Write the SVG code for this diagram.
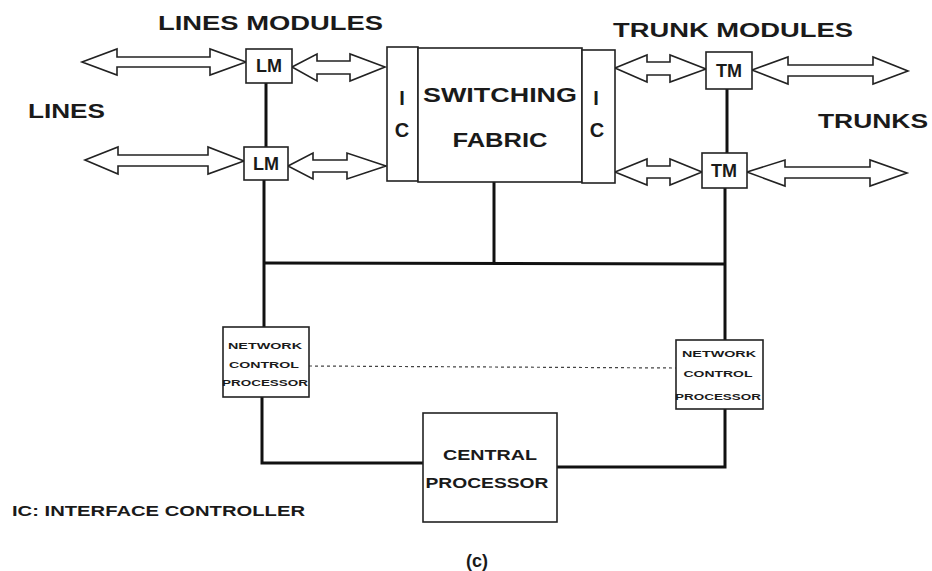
<svg xmlns="http://www.w3.org/2000/svg" width="932" height="571" viewBox="0 0 932 571">
<style>
.box{fill:#fff;stroke:#222;stroke-width:1.6}
.arr{fill:#fff;stroke:#222;stroke-width:1.6;stroke-linejoin:miter}
.wire{fill:none;stroke:#111;stroke-width:3}
.dot{fill:none;stroke:#444;stroke-width:1.2;stroke-dasharray:3 3}
text{font-family:"Liberation Sans",Arial,sans-serif;font-weight:bold;fill:#1a1a1a}
.lbl{font-size:20px}
.big{font-size:20px;text-anchor:middle}
.mod{font-size:18px;text-anchor:middle}
.ncp{font-size:9px;text-anchor:middle}
.cp{font-size:15px;text-anchor:middle}
</style>
<rect width="932" height="571" fill="#fff"/>

<g id="connectors">
  <line class="wire" x1="266" y1="83" x2="266" y2="147"/>
  <line class="wire" x1="264" y1="180" x2="264" y2="327"/>
  <line class="wire" x1="727" y1="89" x2="727" y2="153"/>
  <line class="wire" x1="725" y1="188" x2="725" y2="340"/>
  <line class="wire" x1="263" y1="263" x2="725" y2="264"/>
  <line class="wire" x1="494" y1="182" x2="494" y2="263"/>
  <polyline class="wire" points="262,397 262,463 425,463"/>
  <polyline class="wire" points="725,409 725,467 557,467"/>
  <line class="dot" x1="309" y1="366" x2="676" y2="368"/>
  <path class="arr" d="M82,62 L117,49 L117,57 L210,57 L210,49 L246,62 L210,75 L210,67 L117,67 L117,75 Z"/>
  <path class="arr" d="M292,67 L317,54 L317,61 L350,61 L350,54 L385,67 L350,81 L350,74 L317,74 L317,81 Z"/>
  <path class="arr" d="M85,160 L118,147 L118,155 L208,155 L208,147 L244,161 L208,174 L208,166 L118,166 L118,174 Z"/>
  <path class="arr" d="M288,166 L313,153 L313,160 L347,160 L347,153 L386,166 L347,179 L347,172 L313,172 L313,179 Z"/>
  <path class="arr" d="M615,68 L647,55 L647,62 L670,62 L670,55 L706,69 L670,82 L670,75 L647,75 L647,82 Z"/>
  <path class="arr" d="M752,70 L788,57 L788,65 L873,65 L873,57 L908,71 L873,84 L873,76 L788,76 L788,84 Z"/>
  <path class="arr" d="M615,172 L647,159 L647,166 L670,166 L670,159 L702,172 L670,185 L670,178 L647,178 L647,185 Z"/>
  <path class="arr" d="M747,172 L785,160 L785,167 L870,167 L870,160 L907,173 L870,186 L870,178 L785,178 L785,186 Z"/>
</g>

<g id="LM1"><rect class="box" x="246" y="49" width="46" height="34"/><text class="mod" x="269" y="72">LM</text></g>
<g id="LM2"><rect class="box" x="244" y="147" width="44" height="33"/><text class="mod" x="266" y="170">LM</text></g>
<g id="TM1"><rect class="box" x="706" y="52" width="46" height="37"/><text class="mod" x="729" y="77">TM</text></g>
<g id="TM2"><rect class="box" x="702" y="153" width="45" height="35"/><text class="mod" x="724" y="177">TM</text></g>

<g id="IC-left"><rect class="box" x="387" y="47" width="31" height="134"/>
  <text class="big" x="402" y="105">I</text><text class="big" x="402" y="137">C</text></g>
<g id="switching-fabric"><rect class="box" x="418" y="48" width="164" height="134"/>
  <text class="big" x="500" y="102" textLength="154" lengthAdjust="spacingAndGlyphs">SWITCHING</text>
  <text class="big" x="500" y="147" textLength="95" lengthAdjust="spacingAndGlyphs">FABRIC</text></g>
<g id="IC-right"><rect class="box" x="582" y="50" width="33" height="133"/>
  <text class="big" x="596" y="105">I</text><text class="big" x="597" y="137">C</text></g>

<g id="NCP-left"><rect class="box" x="223" y="327" width="86" height="70"/>
  <text class="ncp" x="265" y="349" textLength="74" lengthAdjust="spacingAndGlyphs">NETWORK</text>
  <text class="ncp" x="264" y="368" textLength="70" lengthAdjust="spacingAndGlyphs">CONTROL</text>
  <text class="ncp" x="265" y="386" textLength="86" lengthAdjust="spacingAndGlyphs">PROCESSOR</text></g>
<g id="NCP-right"><rect class="box" x="676" y="340" width="87" height="69"/>
  <text class="ncp" x="719" y="357" textLength="74" lengthAdjust="spacingAndGlyphs">NETWORK</text>
  <text class="ncp" x="718" y="377" textLength="69" lengthAdjust="spacingAndGlyphs">CONTROL</text>
  <text class="ncp" x="718" y="400" textLength="86" lengthAdjust="spacingAndGlyphs">PROCESSOR</text></g>

<g id="central-processor"><rect class="box" x="423" y="413" width="134" height="109"/>
  <text class="cp" x="490" y="460" textLength="94" lengthAdjust="spacingAndGlyphs">CENTRAL</text>
  <text class="cp" x="487" y="488" textLength="123" lengthAdjust="spacingAndGlyphs">PROCESSOR</text></g>

<g id="labels">
  <text class="lbl" x="158" y="30" textLength="225" lengthAdjust="spacingAndGlyphs">LINES MODULES</text>
  <text class="lbl" x="613" y="37" textLength="240" lengthAdjust="spacingAndGlyphs">TRUNK MODULES</text>
  <text class="lbl" x="28" y="118" textLength="77" lengthAdjust="spacingAndGlyphs">LINES</text>
  <text class="lbl" x="818" y="128" textLength="110" lengthAdjust="spacingAndGlyphs">TRUNKS</text>
  <text x="12" y="516" font-size="15" textLength="293" lengthAdjust="spacingAndGlyphs">IC: INTERFACE CONTROLLER</text>
  <text x="477" y="567" font-size="18" text-anchor="middle">(c)</text>
</g>
</svg>
